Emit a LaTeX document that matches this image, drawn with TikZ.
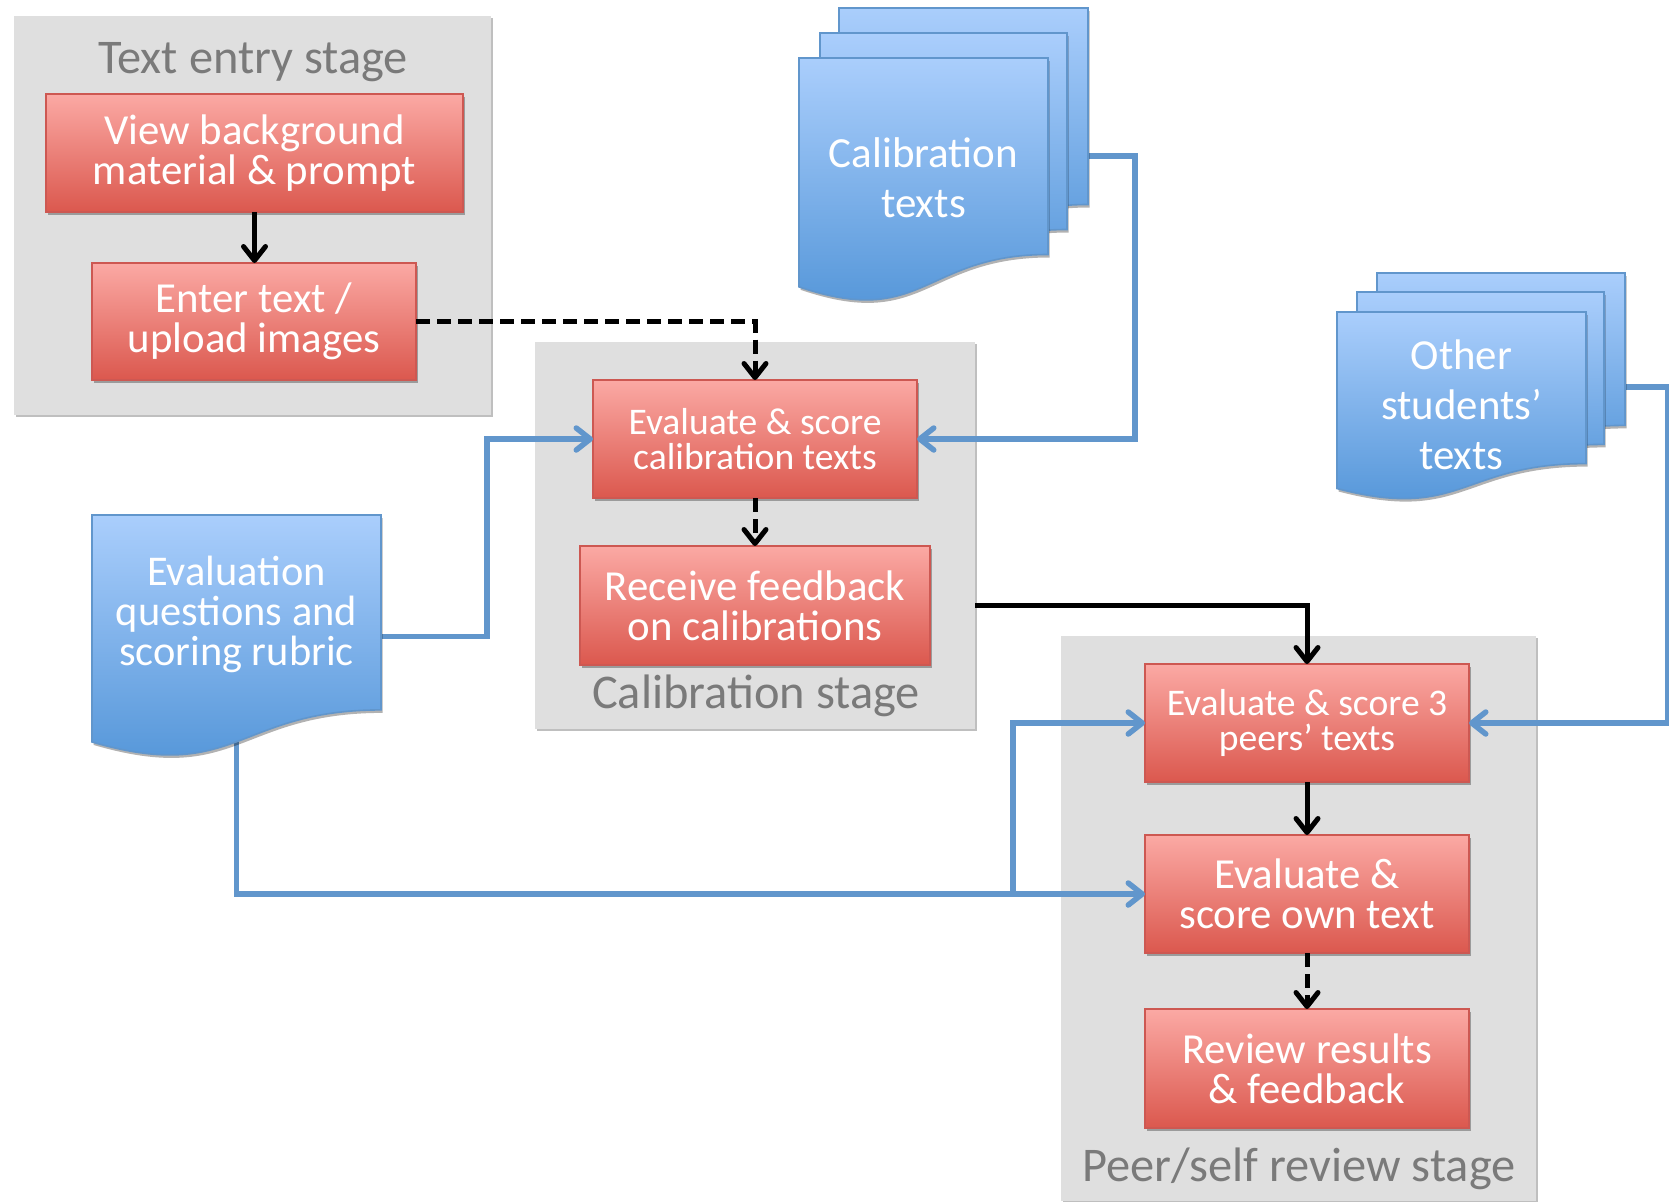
\documentclass[tikz,border=0pt]{standalone}
\usepackage{fontspec}
\setmainfont{Carlito}
\usetikzlibrary{arrows.meta,shadows,calc}
\definecolor{redtop}{RGB}{251,169,164}
\definecolor{redbot}{RGB}{219,88,78}
\definecolor{redline}{RGB}{205,88,82}
\definecolor{bluetop}{RGB}{170,206,252}
\definecolor{bluebot}{RGB}{78,146,214}
\definecolor{blueline}{RGB}{97,150,204}
\definecolor{stagegray}{RGB}{223,223,223}
\definecolor{labelgray}{RGB}{122,122,122}
\newcommand\docframe[5]{\node[docbox, anchor=north west, minimum width=#4*0.5pt, minimum height=#5*0.5pt] (#1) at (#2,#3) {};}
\newcommand\docpaint[4]{\path[docfill] (#1,#2) -- (#1+#3,#2) -- (#1+#3,#2+0.802*#4) .. controls (#1+0.5*#3,#2+0.802*#4) and (#1+0.5*#3,#2+1.1075*#4) .. (#1,#2+0.934*#4) -- cycle;}
\begin{document}
\begin{tikzpicture}[x=0.5pt,y=-0.5pt,
  every node/.style={inner sep=0pt, outer sep=0pt},
  stagebox/.style={fill=stagegray, draw=none, drop shadow={shadow xshift=0.8pt, shadow yshift=-1pt, opacity=0.25, fill=black}},
  stagelabel/.style={text=labelgray, font=\fontsize{24.2}{28}\selectfont, anchor=base},
  stepbox/.style={draw=redline, line width=0.8pt, top color=redtop, bottom color=redbot, text=white, align=center, minimum width=162pt, minimum height=59pt, drop shadow={shadow xshift=0.8pt, shadow yshift=-1.5pt, opacity=0.3, fill=black}},
  bigtext/.style={font=\fontsize{21.4}{20}\selectfont},
  smalltext/.style={font=\fontsize{18.8}{17.5}\selectfont},
  docbox/.style={draw=none, fill=none},
  docfill/.style={draw=blueline, line width=0.8pt, top color=bluetop, bottom color=bluebot, drop shadow={shadow xshift=0.8pt, shadow yshift=-1.5pt, opacity=0.3, fill=black}},
  doctext/.style={text=white, align=center},
  flow/.style={draw=black, line width=2.5pt, -{Straight Barb[round,length=7pt,width=11pt]}},
  dflow/.style={flow, dash pattern=on 7pt off 3.5pt},
  feed/.style={draw=blueline, line width=2.75pt, -{Straight Barb[round,length=7pt,width=11pt]}}
]
\fill[white] (0,0) rectangle (1669,1201);
\useasboundingbox (0,0) rectangle (1669,1201);

% stage backgrounds
\node[stagebox, minimum width=238.5pt, minimum height=199.5pt] (textstage) at (252.5,215.5) {};
\node[stagebox, minimum width=220pt, minimum height=193.5pt] (calstage) at (755,535.5) {};
\node[stagebox, minimum width=237.5pt, minimum height=282.5pt] (peerstage) at (1298.5,918.5) {};

\node[stagelabel] (textlabel) at (253,73) {Text entry stage};
\node[stagelabel] (callabel) at (756,708) {Calibration stage};
\node[stagelabel] (peerlabel) at (1299,1181) {Peer/self review stage};

% steps
\node[stepbox, bigtext, minimum width=208.5pt] (view) at (254.5,153) {View background\\material \& prompt};
\node[stepbox, bigtext, minimum height=58.5pt] (enter) at (254,321.5) {Enter text /\\upload images};
\node[stepbox, smalltext] (evalcal) at (755,439) {Evaluate \& score\\calibration texts};
\node[stepbox, bigtext, minimum width=175pt, minimum height=59.5pt] (recv) at (755,605.5) {Receive feedback\\on calibrations};
\node[stepbox, smalltext] (eval3) at (1307,723) {Evaluate \& score 3\\peers’ texts};
\node[stepbox, bigtext] (evalown) at (1307,894) {Evaluate \&\\score own text};
\node[stepbox, bigtext, minimum height=59.5pt] (review) at (1307,1068.5) {Review results\\\& feedback};

% document frames
\docframe{calC}{839}{8}{249}{245}
\docframe{calB}{820}{33}{247}{245}
\docframe{calA}{799}{58}{249}{245}
\docframe{othC}{1377}{273}{248}{190}
\docframe{othB}{1357}{292}{247}{190}
\docframe{othA}{1337}{312}{249}{189}
\docframe{evq}{92}{515}{289}{243}

\coordinate (calout) at ($(calC.north east)+(0,148)$);
\coordinate (othout) at ($(othC.north east)+(0,114)$);
\coordinate (split) at ($(evalown.west)+(-132,0)$);

% blue connectors
\draw[feed] (evq.center) |- (evalown.west);
\draw[feed] (split) |- (eval3.west);
\draw[feed] (evq.east) -- ++(106,0) |- (evalcal.west);
\draw[feed] (calout) -- ++(47,0) |- (evalcal.east);
\draw[feed] (othout) -- ++(43,0) |- (eval3.east);

% black connectors
\draw[flow] (view.south) -- (view.south |- enter.north);
\draw[dflow] (enter.east) -| (evalcal.north);
\draw[dflow] (evalcal) -- (recv);
\draw[flow] (recv.east -| calstage.east) -| (eval3.north);
\draw[flow] (eval3) -- (evalown);
\draw[dflow] (evalown) -- (review);

% documents
\docpaint{839}{8}{249}{245}
\docpaint{820}{33}{247}{245}
\docpaint{799}{58}{249}{245}
\docpaint{1377}{273}{248}{190}
\docpaint{1357}{292}{247}{190}
\docpaint{1337}{312}{249}{189}
\docpaint{92}{515}{289}{243}

\node[doctext, font=\fontsize{21.5}{25}\selectfont] (caltext) at (923.5,178) {Calibration\\texts};
\node[doctext, font=\fontsize{21.4}{25}\selectfont] (othtext) at (1461.5,404.5) {Other\\students’\\texts};
\node[doctext, font=\fontsize{21.2}{20}\selectfont] (evqtext) at (236.5,614) {Evaluation\\questions and\\scoring rubric};
\end{tikzpicture}
\end{document}
